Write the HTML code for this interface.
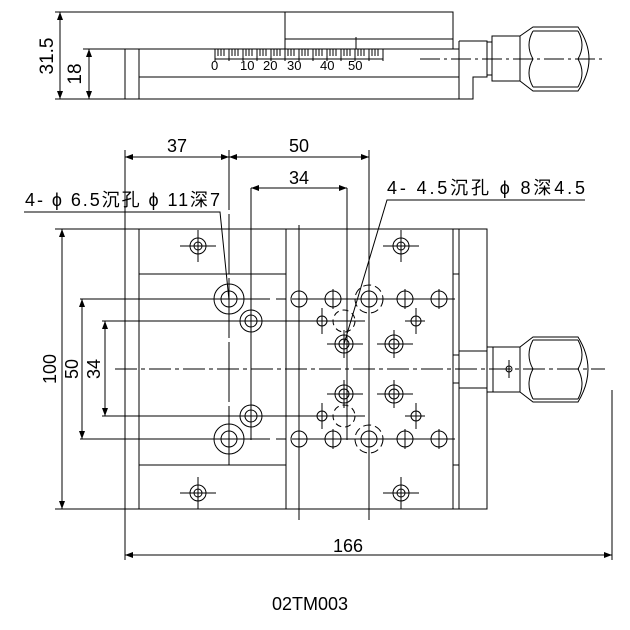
<!DOCTYPE html>
<html><head><meta charset="utf-8"><style>body{margin:0;background:#fff}svg{display:block}text{font-family:"Liberation Sans","Noto Sans CJK SC",sans-serif;fill:#000}</style></head><body>
<svg width="630" height="630" viewBox="0 0 630 630" xmlns="http://www.w3.org/2000/svg">
<defs><marker id="a" markerWidth="8" markerHeight="6" refX="8" refY="3" orient="auto-start-reverse" markerUnits="userSpaceOnUse"><path d="M0,0L8,3L0,6z" fill="#000"/></marker></defs>
<g stroke="#000" stroke-width="1" fill="none">
<!-- top view -->
<line x1="55" y1="12" x2="285" y2="12"/>
<rect x="285" y="12" width="168" height="37"/>
<line x1="285" y1="39" x2="453" y2="39"/>
<line x1="83" y1="49" x2="459" y2="49"/>
<line x1="55" y1="99" x2="459" y2="99"/>
<rect x="125" y="49" width="14" height="50"/>
<line x1="139" y1="77" x2="459" y2="77"/>
<path d="M459 41H487V77H473V99H459V41"/>
<rect x="487" y="42" width="5" height="33"/>
<rect x="492" y="36" width="28" height="45"/>
<path d="M520 36L533 27H578Q600 59 578 91H533L520 81"/>
<path d="M533 31H578M533 87H578M533 31Q525 45 533 59Q525 73 533 87M578 31Q586 45 578 59Q586 73 578 87"/>
<line x1="420" y1="59" x2="603" y2="59" stroke-dasharray="20,4,3,4"/>
<line x1="356" y1="37" x2="356" y2="49"/>
<line x1="215" y1="59" x2="383" y2="59"/>
<path d="M215 49v12M229 49v12M243 49v12M257 49v12M271 49v12M285 49v12M299 49v12M313 49v12M327 49v12M341 49v12M355 49v12M369 49v12M383 49v12" />
<path d="M218 49v7M221 49v7M224 49v7M232 49v7M235 49v7M238 49v7M246 49v7M249 49v7M252 49v7M260 49v7M263 49v7M266 49v7M274 49v7M277 49v7M280 49v7M288 49v7M291 49v7M294 49v7M302 49v7M305 49v7M308 49v7M316 49v7M319 49v7M322 49v7M330 49v7M333 49v7M336 49v7M344 49v7M347 49v7M350 49v7M358 49v7M361 49v7M364 49v7M372 49v7M375 49v7M378 49v7"/>
<line x1="60" y1="12" x2="60" y2="99" marker-start="url(#a)" marker-end="url(#a)"/>
<line x1="89" y1="49" x2="89" y2="99" marker-start="url(#a)" marker-end="url(#a)"/>
<!-- main view -->
<rect x="125" y="229" width="362" height="280"/>
<line x1="139" y1="229" x2="139" y2="509"/>
<line x1="286" y1="229" x2="286" y2="509"/>
<line x1="453" y1="229" x2="453" y2="509"/>
<line x1="459" y1="229" x2="459" y2="509"/>
<line x1="139" y1="274" x2="286" y2="274"/>
<line x1="139" y1="465" x2="286" y2="465"/>
<path d="M453 274H459M453 465H459M453 355H459M453 383H459"/>
<rect x="459" y="351" width="28" height="37"/>
<rect x="487" y="347" width="6" height="45"/>
<rect x="493" y="347" width="27" height="45"/>
<path d="M520 347L533 337H578Q598 369 578 402H533L520 392"/>
<path d="M533 340H578M533 399H578M533 340Q525 355 533 369Q525 384 533 399M578 340Q586 355 578 369Q586 384 578 399"/>
<circle cx="509" cy="369" r="3"/><path d="M509 360v18"/>
<!-- center lines -->
<line x1="115" y1="369" x2="605" y2="369" stroke-dasharray="22,4,4,4"/>
<line x1="80" y1="299" x2="455" y2="299" stroke-dasharray="190,6,10,6"/>
<line x1="80" y1="439" x2="455" y2="439" stroke-dasharray="190,6,10,6"/>
<line x1="102" y1="321" x2="365" y2="321"/>
<line x1="102" y1="416" x2="365" y2="416"/>
<line x1="125" y1="150" x2="125" y2="560"/>
<line x1="229" y1="150" x2="229" y2="465" stroke-dasharray="60,4"/>
<line x1="251" y1="188" x2="251" y2="440"/>
<line x1="299" y1="225" x2="299" y2="520"/>
<line x1="347" y1="188" x2="347" y2="440"/>
<line x1="369" y1="150" x2="369" y2="520"/>
<line x1="612" y1="390" x2="612" y2="560"/>
<line x1="55" y1="229" x2="125" y2="229"/>
<line x1="55" y1="509" x2="125" y2="509"/>
<line x1="62" y1="229" x2="62" y2="509" marker-start="url(#a)" marker-end="url(#a)"/>
<line x1="82" y1="299" x2="82" y2="439" marker-start="url(#a)" marker-end="url(#a)"/>
<line x1="105" y1="321" x2="105" y2="416" marker-start="url(#a)" marker-end="url(#a)"/>
<line x1="125" y1="157" x2="229" y2="157" marker-start="url(#a)" marker-end="url(#a)"/>
<line x1="229" y1="157" x2="369" y2="157" marker-start="url(#a)" marker-end="url(#a)"/>
<line x1="251" y1="188" x2="347" y2="188" marker-start="url(#a)" marker-end="url(#a)"/>
<line x1="125" y1="555" x2="612" y2="555" marker-start="url(#a)" marker-end="url(#a)"/>
<!-- leaders -->
<path d="M24 212H220L229 300" /><path d="M585 200H387L344 344"/>
<!-- holes -->
<g>
<circle cx="198" cy="246" r="8"/><circle cx="198" cy="246" r="4"/><path d="M180 246h36M198 230v32"/>
<circle cx="401" cy="246" r="8"/><circle cx="401" cy="246" r="4"/><path d="M383 246h36M401 230v32"/>
<circle cx="198" cy="493" r="8"/><circle cx="198" cy="493" r="4"/><path d="M180 493h36M198 477v32"/>
<circle cx="401" cy="493" r="8"/><circle cx="401" cy="493" r="4"/><path d="M383 493h36M401 477v32"/>
<circle cx="229" cy="299" r="15"/><circle cx="229" cy="299" r="8"/>
<circle cx="229" cy="439" r="15"/><circle cx="229" cy="439" r="8"/>
<circle cx="251" cy="321" r="11"/><circle cx="251" cy="321" r="6"/>
<circle cx="251" cy="416" r="11"/><circle cx="251" cy="416" r="6"/>
<circle cx="299" cy="299" r="8"/><circle cx="333" cy="299" r="8"/><circle cx="405" cy="299" r="8"/><circle cx="439" cy="299" r="8"/>
<circle cx="299" cy="439" r="8"/><circle cx="333" cy="439" r="8"/><circle cx="405" cy="439" r="8"/><circle cx="439" cy="439" r="8"/>
<path d="M299 289v20M333 289v20M405 289v20M439 289v20M299 429v20M333 429v20M405 429v20M439 429v20"/>
<circle cx="369" cy="299" r="8"/><circle cx="369" cy="299" r="14" stroke-dasharray="8,4"/>
<circle cx="369" cy="439" r="8"/><circle cx="369" cy="439" r="14" stroke-dasharray="8,4"/>
<circle cx="322" cy="321" r="5"/><circle cx="416" cy="321" r="5"/><circle cx="322" cy="416" r="5"/><circle cx="416" cy="416" r="5"/>
<path d="M322 308v26M416 308v26M322 403v26M416 403v26M405 321h20M405 416h20"/>
<circle cx="344" cy="321" r="11" stroke-dasharray="6,4"/><circle cx="344" cy="416" r="11" stroke-dasharray="6,4"/>
<circle cx="344" cy="344" r="9"/><circle cx="344" cy="344" r="5"/><path d="M327 344h36M344 330v28"/>
<circle cx="394" cy="344" r="9"/><circle cx="394" cy="344" r="5"/><path d="M377 344h36M394 330v28"/>
<circle cx="344" cy="394" r="9"/><circle cx="344" cy="394" r="5"/><path d="M327 394h36M344 380v28"/>
<circle cx="394" cy="394" r="9"/><circle cx="394" cy="394" r="5"/><path d="M377 394h36M394 380v28"/>
</g>
</g>
<g font-size="16">
<text x="211" y="70" font-size="13">0</text><text x="240" y="70" font-size="13">10</text><text x="263" y="70" font-size="13">20</text><text x="287" y="70" font-size="13">30</text><text x="320" y="70" font-size="13">40</text><text x="348" y="70" font-size="13">50</text>
<text transform="translate(53,56) rotate(-90)" text-anchor="middle" font-size="19">31.5</text>
<text transform="translate(81,74) rotate(-90)" text-anchor="middle" font-size="19">18</text>
<text x="177" y="152" text-anchor="middle" font-size="18">37</text>
<text x="299" y="152" text-anchor="middle" font-size="18">50</text>
<text x="299" y="184" text-anchor="middle" font-size="18">34</text>
<text x="25" y="206" font-size="18" textLength="195" lengthAdjust="spacing">4- ϕ 6.5沉孔 ϕ 11深7</text>
<text x="387" y="194" font-size="18" textLength="198" lengthAdjust="spacing">4-  4.5沉孔 ϕ 8深4.5</text>
<text transform="translate(56,369) rotate(-90)" text-anchor="middle" font-size="18">100</text>
<text transform="translate(78,369) rotate(-90)" text-anchor="middle" font-size="18">50</text>
<text transform="translate(100,369) rotate(-90)" text-anchor="middle" font-size="18">34</text>
<text x="348" y="552" text-anchor="middle" font-size="18">166</text>
<text x="310" y="610" text-anchor="middle" font-size="18">02TM003</text>
</g>
</svg>
</body></html>
